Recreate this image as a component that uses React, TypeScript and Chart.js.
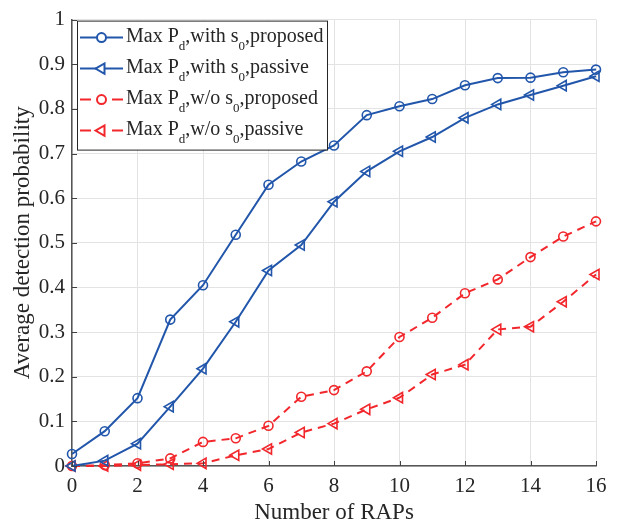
import React, { useEffect, useRef } from 'react';
import { Chart, registerables } from 'chart.js';

Chart.register(...registerables);

const rapCounts = [0, 1, 2, 3, 4, 5, 6, 7, 8, 9, 10, 11, 12, 13, 14, 15, 16];
const withS0Proposed = [0.027, 0.078, 0.152, 0.328, 0.405, 0.518, 0.63, 0.682, 0.718, 0.786, 0.806, 0.822, 0.853, 0.869, 0.87, 0.882, 0.888];
const withS0Passive = [0.0, 0.012, 0.05, 0.133, 0.218, 0.323, 0.438, 0.495, 0.592, 0.66, 0.705, 0.737, 0.78, 0.81, 0.831, 0.852, 0.873];
const withoutS0Proposed = [0.0, 0.002, 0.006, 0.017, 0.054, 0.062, 0.09, 0.155, 0.17, 0.212, 0.289, 0.332, 0.387, 0.418, 0.468, 0.514, 0.548];
const withoutS0Passive = [0.0, 0.0, 0.002, 0.004, 0.006, 0.024, 0.038, 0.075, 0.095, 0.127, 0.153, 0.205, 0.227, 0.306, 0.312, 0.368, 0.429];

const xTickValues = [0, 2, 4, 6, 8, 10, 12, 14, 16];
const yTickValues = [0, 0.1, 0.2, 0.3, 0.4, 0.5, 0.6, 0.7, 0.8, 0.9, 1];
const yTickLabels = ['0', '0.1', '0.2', '0.3', '0.4', '0.5', '0.6', '0.7', '0.8', '0.9', '1'];

const xTitle = 'Number of RAPs';
const yTitle = 'Average detection probability';

// legend label segments: [text, isSubscript]
const legendLabels: [string, boolean][][] = [
  [['Max P', false], ['d', true], [',with s', false], ['0', true], [',proposed', false]],
  [['Max P', false], ['d', true], [',with s', false], ['0', true], [',passive', false]],
  [['Max P', false], ['d', true], [',w/o s', false], ['0', true], [',proposed', false]],
  [['Max P', false], ['d', true], [',w/o s', false], ['0', true], [',passive', false]],
];

const BLUE = '#2156ab';
const RED = '#f2272c';
const FONT = '"Liberation Serif", "Times New Roman", serif';
const TEXT = '#262626';

function drawMarker(ctx: CanvasRenderingContext2D, style: string, cx: number, cy: number, r: number) {
  ctx.beginPath();
  if (style === 'circle') {
    ctx.arc(cx, cy, r, 0, Math.PI * 2);
  } else {
    ctx.moveTo(cx - r, cy);
    ctx.lineTo(cx + r * 0.5, cy - r * 0.866);
    ctx.lineTo(cx + r * 0.5, cy + r * 0.866);
    ctx.closePath();
  }
  ctx.fillStyle = '#fff';
  ctx.fill();
  ctx.stroke();
}

const legendPlugin = {
  id: 'customLegend',
  afterDatasetsDraw(chart: any) {
    const ctx: CanvasRenderingContext2D = chart.ctx;
    const a = chart.chartArea;
    const x0 = a.left + 5;
    const y0 = a.top + 1;
    const w = 250;
    const h = 129;
    ctx.save();
    ctx.fillStyle = '#fff';
    ctx.fillRect(x0, y0, w, h);
    ctx.strokeStyle = '#262626';
    ctx.lineWidth = 1;
    ctx.strokeRect(x0 + 0.5, y0 + 0.5, w, h);
    chart.data.datasets.forEach((ds: any, i: number) => {
      const cy = y0 + 17 + i * 31;
      const lx0 = x0 + 3;
      const lx1 = x0 + 46;
      ctx.strokeStyle = ds.borderColor;
      ctx.lineWidth = 2;
      ctx.setLineDash(ds.borderDash && ds.borderDash.length ? [11, 21] : []);
      ctx.beginPath();
      ctx.moveTo(lx0, cy);
      ctx.lineTo(lx1, cy);
      ctx.stroke();
      ctx.setLineDash([]);
      drawMarker(ctx, ds.pointStyle, (lx0 + lx1) / 2, cy, ds.pointStyle === 'circle' ? 4.5 : 6);
      let tx = x0 + 49;
      const base = cy + 4;
      ctx.fillStyle = TEXT;
      ctx.textBaseline = 'alphabetic';
      ctx.textAlign = 'left';
      legendLabels[i].forEach(([t, sub]) => {
        ctx.font = sub ? `13px ${FONT}` : `20px ${FONT}`;
        ctx.fillText(t, tx, sub ? base + 8 : base);
        tx += ctx.measureText(t).width;
      });
    });
    ctx.restore();
  },
};

const innerTicksPlugin = {
  id: 'innerTicks',
  afterDatasetsDraw(chart: any) {
    const ctx: CanvasRenderingContext2D = chart.ctx;
    const a = chart.chartArea;
    const xs = chart.scales.x;
    const ys = chart.scales.y;
    ctx.save();
    ctx.strokeStyle = '#404040';
    ctx.lineWidth = 1;
    ctx.beginPath();
    xTickValues.forEach((v) => {
      const px = Math.round(xs.getPixelForValue(v)) + 0.5;
      ctx.moveTo(px, a.bottom);
      ctx.lineTo(px, a.bottom - 5);
    });
    yTickValues.forEach((v) => {
      const py = Math.round(ys.getPixelForValue(v)) + 0.5;
      ctx.moveTo(a.left, py);
      ctx.lineTo(a.left + 5, py);
    });
    ctx.stroke();
    ctx.restore();
  },
};

function makeDataset(data: number[], color: string, style: string, dashed: boolean) {
  return {
    data: rapCounts.map((x, i) => ({ x, y: data[i] })),
    borderColor: color,
    backgroundColor: '#ffffff',
    borderWidth: 2,
    borderDash: dashed ? [8, 6] : [],
    pointStyle: style,
    pointRotation: style === 'triangle' ? -90 : 0,
    pointRadius: style === 'circle' ? 4.5 : 6,
    pointBorderWidth: 1.6,
    pointBorderColor: color,
    pointBackgroundColor: 'rgba(255,255,255,0)',
    tension: 0,
    clip: false as any,
  };
}

export default function App() {
  const ref = useRef<HTMLCanvasElement>(null);
  useEffect(() => {
    document.body.style.margin = '0';
    const chart = new Chart(ref.current as HTMLCanvasElement, {
      type: 'line',
      data: {
        datasets: [
          makeDataset(withS0Proposed, BLUE, 'circle', false),
          makeDataset(withS0Passive, BLUE, 'triangle', false),
          makeDataset(withoutS0Proposed, RED, 'circle', true),
          makeDataset(withoutS0Passive, RED, 'triangle', true),
        ] as any,
      },
      options: {
        animation: false,
        responsive: false,
        maintainAspectRatio: false,
        devicePixelRatio: 1,
        layout: { padding: { top: 17, right: 25, left: 0, bottom: 0 } },
        plugins: { legend: { display: false }, tooltip: { enabled: false } },
        scales: {
          x: {
            type: 'linear',
            min: 0,
            max: 16,
            afterBuildTicks: (s: any) => {
              s.ticks = xTickValues.map((v) => ({ value: v }));
            },
            afterFit: (s: any) => {
              s.height = 61;
            },
            ticks: {
              font: { family: FONT, size: 21 },
              color: TEXT,
              padding: 8,
              maxRotation: 0,
              callback: (v: any) => String(v),
            },
            grid: { color: '#e3e3e3', lineWidth: 1, drawTicks: false },
            border: { color: '#555555', width: 1.5 },
            title: {
              display: true,
              text: xTitle,
              font: { family: FONT, size: 23 },
              color: TEXT,
              padding: { top: 0, bottom: 0 },
            },
          },
          y: {
            type: 'linear',
            min: 0,
            max: 1,
            afterBuildTicks: (s: any) => {
              s.ticks = yTickValues.map((v) => ({ value: v }));
            },
            afterFit: (s: any) => {
              s.width = 72;
            },
            ticks: {
              font: { family: FONT, size: 21 },
              color: TEXT,
              padding: 7,
              callback: (_v: any, i: number) => yTickLabels[i],
            },
            grid: { color: '#e3e3e3', lineWidth: 1, drawTicks: false },
            border: { color: '#555555', width: 1.5 },
            title: {
              display: true,
              text: yTitle,
              font: { family: FONT, size: 23 },
              color: TEXT,
              padding: { top: 9, bottom: 0 },
            },
          },
        },
      },
      plugins: [innerTicksPlugin, legendPlugin],
    });
    return () => chart.destroy();
  }, []);
  return (
    <div style={{ width: 621, height: 527, background: '#fff' }}>
      <canvas ref={ref} width={621} height={527} style={{ display: 'block' }} />
    </div>
  );
}
